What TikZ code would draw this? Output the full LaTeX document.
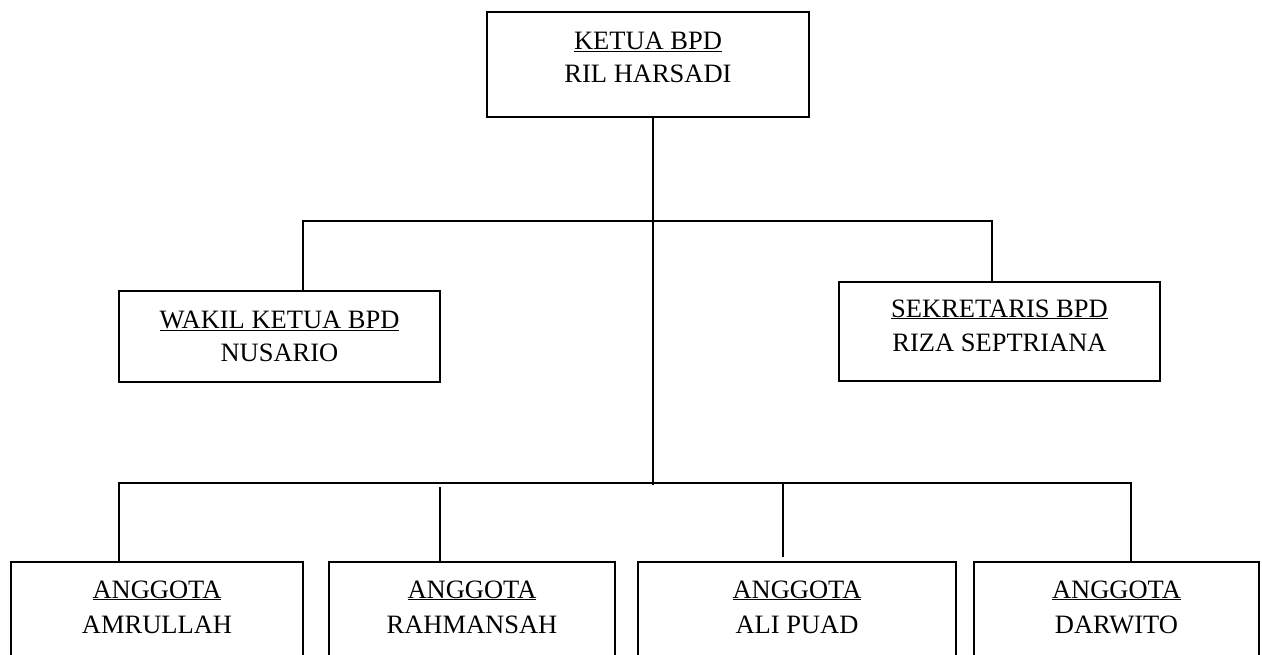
\documentclass[tikz,border=0pt]{standalone}
\usepackage{fontspec}
\setmainfont{Liberation Serif}
\begin{document}
\begin{tikzpicture}[x=1pt,y=-1pt,
  box/.style={draw=black,line width=2pt,inner sep=0pt,fill=none},
  lbl/.style={anchor=base,inner sep=0pt,font=\fontsize{26.5}{33}\selectfont},
  conn/.style={draw=black,line width=2pt}]
\useasboundingbox (0,0) rectangle (1262,655);
\clip (0,0) rectangle (1262,655);
% boxes
\node[box,minimum width=322pt,minimum height=105pt] (top) at (648,64.5) {};
\node[box,minimum width=321pt,minimum height=91pt] (wakil) at (279.5,336.5) {};
\node[box,minimum width=321pt,minimum height=99pt] (sek) at (999.5,331.5) {};
\node[box,minimum width=292pt,minimum height=138pt] (m1) at (157,631) {};
\node[box,minimum width=286pt,minimum height=138pt] (m2) at (472,631) {};
\node[box,minimum width=318pt,minimum height=138pt] (m3) at (797,631) {};
\node[box,minimum width=285pt,minimum height=138pt] (m4) at (1116.5,631) {};
% labels
\node[lbl] (topA) at (648,50) {\underline{KETUA BPD}};
\node[lbl] (topB) at (648,83) {RIL HARSADI};
\node[lbl] (wakA) at (279.5,328) {\underline{WAKIL KETUA BPD}};
\node[lbl] (wakB) at (279.5,361) {NUSARIO};
\node[lbl] (sekA) at (999.5,317) {\underline{SEKRETARIS BPD}};
\node[lbl] (sekB) at (999.5,352) {RIZA SEPTRIANA};
\node[lbl] (m1A) at (157,598) {\underline{ANGGOTA}};
\node[lbl] (m1B) at (157,633) {AMRULLAH};
\node[lbl] (m2A) at (472,598) {\underline{ANGGOTA}};
\node[lbl] (m2B) at (472,633) {RAHMANSAH};
\node[lbl] (m3A) at (797,598) {\underline{ANGGOTA}};
\node[lbl] (m3B) at (797,633) {ALI PUAD};
\node[lbl] (m4A) at (1116.5,598) {\underline{ANGGOTA}};
\node[lbl] (m4B) at (1116.5,633) {DARWITO};
% junctions
\coordinate (jB) at (653,485);
\coordinate (hl) at (303,221);
\coordinate (hr) at (992,221);
\coordinate (b1) at (119,483);
\coordinate (b4) at (1131,483);
\coordinate (b2) at (440,487);
\coordinate (b3) at (783,483);
\coordinate (b3e) at (783,557);
% connectors
\draw[conn] (top.south -| jB) -- (jB);
\draw[conn] (wakil.north -| hl) -- (hl) -- (hr) -- (sek.north -| hr);
\draw[conn] (m1.north -| b1) -- (b1) -- (b4) -- (m4.north -| b4);
\draw[conn] (b2) -- (m2.north -| b2);
\draw[conn] (b3) -- (b3e);
\end{tikzpicture}
\end{document}
